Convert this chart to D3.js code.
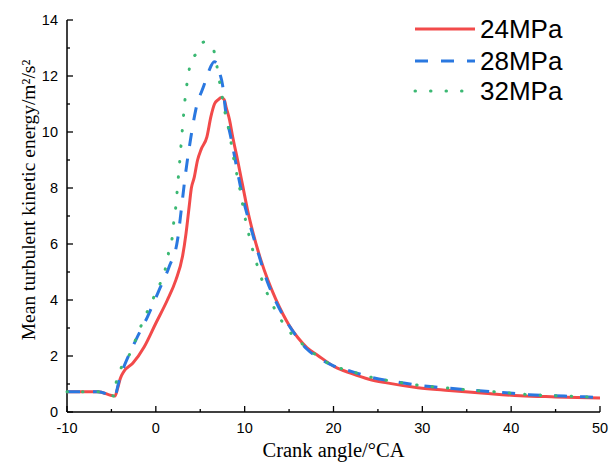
<!DOCTYPE html>
<html><head><meta charset="utf-8">
<script src="https://cdn.jsdelivr.net/npm/d3@7"></script>
<style>body{margin:0;background:#fff;} svg{display:block;}</style>
</head><body>
<svg id="chart" width="616" height="466"></svg>
<script>
const seriesNames = ["24MPa", "28MPa", "32MPa"];
const seriesColors = ["#f24a4a", "#2a78e0", "#3bb873"];
const xTicks = [-10, 0, 10, 20, 30, 40, 50];
const yTicks = [0, 2, 4, 6, 8, 10, 12, 14];

const angle24 = [-10, -6.5, -4.6, -4.3, -4.0, -3.6, -2.6, -1.3, 0, 1.3, 2.25, 3.0, 3.4, 3.75, 4.0, 4.3, 4.7, 5.1, 5.75, 6.2, 6.6, 7.0, 7.4, 7.7, 7.9, 8.3, 8.65, 9.2, 9.8, 10.3, 10.9, 11.8, 12.6, 13.5, 14.3, 15.0, 16.0, 17.0, 18.2, 20.1, 22.0, 24.0, 26.0, 29.5, 33.0, 37.0, 41.0, 45.0, 50.0];
const tke24 = [0.72, 0.72, 0.57, 0.85, 1.2, 1.45, 1.74, 2.33, 3.17, 4.0, 4.71, 5.55, 6.38, 7.33, 8.0, 8.35, 9.0, 9.38, 9.83, 10.55, 11.0, 11.15, 11.23, 11.15, 10.9, 10.43, 9.83, 9.0, 8.05, 7.25, 6.45, 5.45, 4.72, 4.03, 3.5, 3.1, 2.65, 2.3, 2.03, 1.62, 1.38, 1.17, 1.04, 0.87, 0.77, 0.67, 0.58, 0.54, 0.5];

const angle28 = [-10, -6.5, -4.6, -4.3, -4.0, -3.75, -2.25, -0.94, 0.38, 1.5, 2.44, 2.82, 3.0, 3.38, 3.94, 4.5, 5.4, 6.0, 6.57, 6.9, 7.2, 7.5, 7.88, 8.45, 9.0, 9.76, 10.5, 11.5, 12.5, 13.5, 14.5, 15.5, 17.0, 18.5, 20.0, 22.0, 24.0, 27.0, 30.0, 33.0, 36.0, 39.0, 42.0, 46.0, 50.0];
const tke28 = [0.72, 0.72, 0.57, 0.9, 1.3, 1.5, 2.57, 3.4, 4.36, 5.19, 6.14, 7.1, 7.6, 8.6, 9.8, 10.8, 11.65, 12.2, 12.51, 12.45, 12.1, 11.7, 10.7, 9.8, 8.9, 7.7, 6.8, 5.7, 4.7, 3.95, 3.35, 2.85, 2.25, 1.9, 1.65, 1.45, 1.26, 1.08, 0.94, 0.85, 0.77, 0.7, 0.62, 0.57, 0.52];

const angle32 = [-10, -6.5, -4.6, -4.5, -4.0, -3.0, -1.7, -0.2, 0.56, 1.13, 1.5, 1.88, 2.06, 2.29, 2.44, 2.59, 2.74, 2.89, 3.04, 3.19, 3.38, 3.64, 3.94, 4.62, 5.44, 6.0, 6.5, 6.87, 7.17, 7.8, 8.2, 8.8, 9.5, 10.1, 10.5, 11.07, 11.45, 12.2, 12.95, 13.7, 14.6, 15.8, 17.0, 18.5, 20.0, 22.0, 24.0, 27.0, 30.0, 33.0, 36.0, 39.0, 42.0, 46.0, 50.0];
const tke32 = [0.72, 0.72, 0.57, 0.98, 1.5, 2.03, 3.05, 4.12, 4.65, 5.19, 5.79, 6.32, 6.92, 7.45, 8.05, 8.58, 9.14, 9.74, 10.29, 10.85, 11.44, 11.98, 12.54, 12.81, 13.22, 13.1, 12.93, 12.36, 11.8, 10.68, 10.1, 9.0, 7.9, 6.85, 6.3, 5.6, 5.2, 4.5, 3.95, 3.5, 3.05, 2.62, 2.3, 1.92, 1.65, 1.45, 1.26, 1.08, 0.94, 0.85, 0.77, 0.7, 0.62, 0.57, 0.52];

(function () {
const series = [
  {name: seriesNames[0], color: seriesColors[0], dash: null, x: angle24, y: tke24},
  {name: seriesNames[1], color: seriesColors[1], dash: "13,13", x: angle28, y: tke28},
  {name: seriesNames[2], color: seriesColors[2], dash: "0.5,15", x: angle32, y: tke32}
];

const svg = d3.select("#chart");
const pLeft = 67, pRight = 600, pTop = 20, pBottom = 412;
const x = d3.scaleLinear().domain([-10, 50]).range([pLeft, pRight]);
const y = d3.scaleLinear().domain([0, 14]).range([pBottom, pTop]);

const axisColor = "#000";
svg.append("line").attr("x1", pLeft).attr("x2", pRight).attr("y1", pBottom).attr("y2", pBottom)
  .attr("stroke", axisColor).attr("stroke-width", 1.5);
svg.append("line").attr("x1", pLeft).attr("x2", pLeft).attr("y1", pBottom).attr("y2", pTop)
  .attr("stroke", axisColor).attr("stroke-width", 1.5);

const xMinor = d3.range(-10, 50.01, 5);
xMinor.forEach(v => {
  const major = v % 10 === 0;
  svg.append("line").attr("x1", x(v)).attr("x2", x(v)).attr("y1", pBottom).attr("y2", pBottom - (major ? 6 : 3))
    .attr("stroke", axisColor).attr("stroke-width", 1.3);
});
xTicks.forEach(v => {
  svg.append("text").attr("x", x(v)).attr("y", 433).attr("text-anchor", "middle")
    .attr("font-family", "Liberation Sans, Arial, sans-serif").attr("font-size", 14.5).text(v);
});
const yMinor = d3.range(0, 14.01, 1);
yMinor.forEach(v => {
  const major = v % 2 === 0;
  svg.append("line").attr("x1", pLeft).attr("x2", pLeft + (major ? 6 : 3)).attr("y1", y(v)).attr("y2", y(v))
    .attr("stroke", axisColor).attr("stroke-width", 1.3);
});
yTicks.forEach(v => {
  svg.append("text").attr("x", 58).attr("y", y(v) + 5).attr("text-anchor", "end")
    .attr("font-family", "Liberation Sans, Arial, sans-serif").attr("font-size", 14.5).text(v);
});

svg.append("text").attr("x", (pLeft + pRight) / 2).attr("y", 457).attr("text-anchor", "middle")
  .attr("font-family", "Liberation Serif, Times New Roman, serif").attr("font-size", 20.5)
  .text("Crank angle/°CA");
svg.append("text").attr("transform", "translate(35,200) rotate(-90)").attr("text-anchor", "middle")
  .attr("font-family", "Liberation Serif, Times New Roman, serif").attr("font-size", 19.5)
  .text("Mean turbulent kinetic energy/m²/s²");

const line = d3.line().x(d => x(d[0])).y(d => y(d[1])).curve(d3.curveMonotoneX);
series.forEach(s => {
  const pts = s.x.map((a, i) => [a, s.y[i]]);
  svg.append("path").attr("d", line(pts)).attr("fill", "none")
    .attr("stroke", s.color).attr("stroke-width", 3)
    .attr("stroke-dasharray", s.dash)
    .attr("stroke-linecap", s.dash === "0.5,15" ? "round" : "butt")
    .attr("stroke-linejoin", "round");
});

const legendY = [29, 61, 91];
series.forEach((s, i) => {
  svg.append("line").attr("x1", 415).attr("x2", 475).attr("y1", legendY[i]).attr("y2", legendY[i])
    .attr("stroke", s.color).attr("stroke-width", 3)
    .attr("stroke-dasharray", s.dash)
    .attr("stroke-linecap", s.dash === "0.5,15" ? "round" : "butt");
  svg.append("text").attr("x", 480).attr("y", legendY[i] + 9)
    .attr("font-family", "Liberation Sans, Arial, sans-serif").attr("font-size", 26).text(s.name);
});
})();
</script>
</body></html>
